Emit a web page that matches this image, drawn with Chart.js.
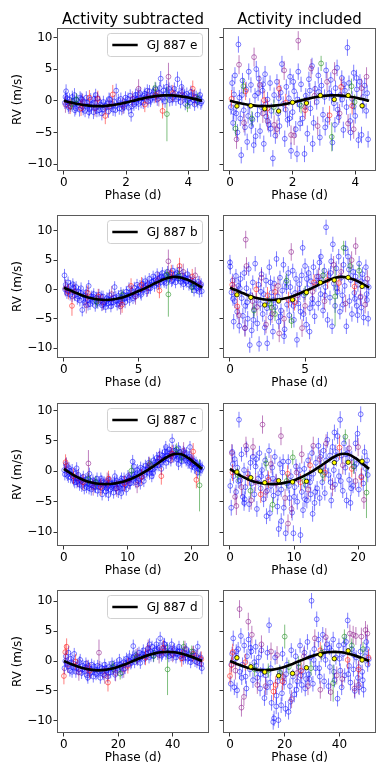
<!DOCTYPE html>
<html>
<head>
<meta charset="utf-8">
<script src="https://cdn.jsdelivr.net/npm/chart.js@4.4.1/dist/chart.umd.min.js"></script>
<style>
body { margin: 0; background: #fff; width: 389px; height: 777px; position: relative; overflow: hidden; }
canvas { position: absolute; }
</style>
</head>
<body>
<script>
'use strict';

// ---- data ----
var planets = ['GJ 887 e', 'GJ 887 b', 'GJ 887 c', 'GJ 887 d'];
var columnTitles = ['Activity subtracted', 'Activity included'];
var xRanges = [[-0.222, 4.662], [-0.463, 9.723], [-1.085, 22.785], [-2.54, 53.34]];
var yRanges = [[-11.1, 11.5], [-11.7, 12.7], [-12.3, 11.25], [-12.05, 11.9]];
var xTicks = [[0, 2, 4], [0, 5], [0, 10, 20], [0, 20, 40]];
var yTicks = [-10, -5, 0, 5, 10];

// points are [phase, rv, error]
// GJ 887 e
var eSubBlue = [[0.03,-0.3,1.0],[0.07,1.5,1.1],[0.1,0.4,0.9],[0.14,-0.8,1.0],[0.18,0.2,1.0],[0.22,-0.9,0.9],[0.27,0.6,1.0],[0.3,-0.5,1.0],[0.34,0.9,1.1],[0.38,-1.2,1.0],[0.42,0.1,0.9],[0.46,-0.7,1.0],[0.5,-1.4,1.1],[0.55,0.3,1.0],[0.6,-0.9,1.0],[0.64,-0.2,0.9],[0.68,-1.6,1.0],[0.72,0.5,1.0],[0.77,-0.8,1.0],[0.82,-1.3,1.1],[0.86,0.2,1.0],[0.9,-0.6,0.9],[0.95,-1.8,1.1],[1.0,-0.3,1.0],[1.04,-1.1,1.0],[1.08,0.4,1.0],[1.13,-1.5,1.0],[1.18,-0.6,0.9],[1.22,-2.0,1.1],[1.27,-0.2,1.0],[1.32,-1.1,1.0],[1.38,-0.5,1.0],[1.43,-1.7,1.0],[1.48,0.2,1.0],[1.52,-0.9,0.9],[1.58,-1.4,1.0],[1.62,-0.1,1.0],[1.68,1.6,1.1],[1.72,-0.7,1.0],[1.78,-1.2,1.0],[1.83,0.3,1.0],[1.88,-0.5,0.9],[1.93,-1.0,1.0],[1.98,0.5,1.0],[2.03,-0.3,1.0],[2.08,-1.1,1.0],[2.13,0.8,1.0],[2.16,-2.2,1.1],[2.2,0.1,1.0],[2.25,-0.6,1.0],[2.3,0.9,1.0],[2.35,0.2,0.9],[2.4,-0.5,1.0],[2.45,1.2,1.0],[2.5,0.4,1.0],[2.55,-0.3,1.0],[2.6,1.1,1.0],[2.65,0.6,0.9],[2.7,-0.1,1.0],[2.75,1.5,1.0],[2.8,0.3,1.0],[2.85,1.0,1.0],[2.9,0.5,0.9],[2.95,1.8,1.1],[3.0,0.2,1.0],[3.05,1.2,1.0],[3.11,3.5,1.2],[3.15,0.6,1.0],[3.2,1.6,1.0],[3.25,-0.1,1.0],[3.3,2.2,1.1],[3.35,0.9,1.0],[3.4,0.1,1.0],[3.45,1.5,1.0],[3.5,0.5,0.9],[3.55,1.9,1.0],[3.6,0.2,1.0],[3.65,3.4,1.2],[3.7,1.0,1.0],[3.75,-0.2,1.0],[3.8,1.4,1.0],[3.85,0.6,0.9],[3.9,-0.5,1.0],[3.95,1.1,1.0],[4.0,0.3,1.0],[4.05,-0.3,1.0],[4.1,0.9,1.0],[4.15,0.1,0.9],[4.2,-0.6,1.0],[4.25,0.6,1.0],[4.3,-0.2,1.0],[4.35,0.4,1.0],[4.4,-0.4,1.0],
    [0.05,0.6,1.0],[0.16,-1.1,1.0],[0.29,0.0,1.0],[0.4,-0.4,1.0],[0.52,0.5,1.0],[0.62,-1.3,1.0],[0.74,-0.3,1.0],[0.88,-1.0,1.0],[0.97,0.3,1.0],[1.06,-1.6,1.0],[1.15,-0.2,1.0],[1.25,-1.4,1.0],[1.35,-0.8,1.0],[1.45,0.3,1.0],[1.55,-0.5,1.0],[1.65,-1.5,1.0],[1.75,0.1,1.0],[1.86,-1.3,1.0],[1.95,-0.6,1.0],[2.06,0.3,1.0],[2.18,-0.9,1.0],[2.28,0.4,1.0],[2.38,1.0,1.0],[2.48,-0.2,1.0],[2.58,0.8,1.0],[2.68,1.6,1.0],[2.78,0.0,1.0],[2.88,1.4,1.0],[2.98,0.7,1.0],[3.08,2.0,1.0],[3.18,0.3,1.0],[3.28,1.2,1.0],[3.38,1.9,1.0],[3.48,0.2,1.0],[3.58,1.2,1.0],[3.68,0.5,1.0],[3.78,2.2,1.0],[3.88,0.9,1.0],[3.98,0.0,1.0],[4.08,1.4,1.0],[4.18,0.7,1.0],[4.28,0.1,1.0],[4.38,0.9,1.0],[4.43,-0.1,1.0],[0.1,-0.2,1.0],[0.35,-1.5,1.0],[0.58,0.2,1.0],[0.8,-1.8,1.0],[1.02,0.9,1.0],[2.32,-0.3,1.0]];
var eSubRed = [[0.82,0.5,1.2],[1.09,0.3,1.3],[1.33,-2.4,1.3],[1.57,1.0,1.5],[0.55,-1.2,1.2],[2.6,-0.6,1.2],[3.17,-1.6,1.2],[3.5,1.2,1.3],[4.14,1.9,1.3],[2.95,0.9,1.2],[0.2,-0.9,1.2]];
var eSubGreen = [[0.4,0.2,1.0],[0.25,-0.5,1.0],[2.93,2.0,1.0],[3.31,-2.1,4.3],[3.97,-0.8,1.0],[4.3,0.3,1.0]];
var eSubPurple = [[0.05,-0.6,1.3],[0.6,-0.2,1.3],[1.0,-1.2,1.3],[1.45,-0.9,1.3],[2.4,1.9,1.5],[2.7,0.6,1.3],[3.36,3.8,2.2],[3.05,0.4,1.3],[3.8,0.9,1.3],[4.2,0.5,1.3],[1.9,-0.8,1.3],[2.2,0.3,1.2]];
var eIncBlue = [[0.03,-1.0,1.2],[0.07,2.8,1.3],[0.1,-3.5,1.2],[0.13,1.0,1.2],[0.16,4.0,1.3],[0.2,-2.0,1.2],[0.24,-5.0,1.3],[0.27,8.9,1.3],[0.3,0.5,1.2],[0.33,-2.8,1.2],[0.36,-8.6,1.3],[0.4,3.2,1.2],[0.44,-1.5,1.2],[0.48,-4.2,1.3],[0.52,1.8,1.2],[0.55,-6.5,1.3],[0.6,4.6,1.3],[0.63,-0.8,1.2],[0.67,2.5,1.2],[0.72,-3.0,1.2],[0.76,-7.0,1.3],[0.8,0.8,1.2],[0.84,5.0,1.3],[0.88,-2.2,1.2],[0.92,3.5,1.3],[0.96,-4.8,1.2],[1.0,-1.0,1.2],[1.04,1.6,1.2],[1.08,-6.8,1.3],[1.12,4.2,1.3],[1.16,-2.5,1.2],[1.2,0.2,1.2],[1.24,-3.8,1.2],[1.28,2.8,1.2],[1.32,-1.6,1.2],[1.37,-9.1,1.3],[1.41,0.9,1.2],[1.45,-5.5,1.3],[1.5,3.0,1.2],[1.54,-2.0,1.2],[1.58,-4.0,1.3],[1.62,1.3,1.2],[1.66,5.8,1.3],[1.7,-0.5,1.2],[1.75,-6.0,1.3],[1.8,2.2,1.2],[1.84,-3.0,1.2],[1.88,0.4,1.2],[1.92,3.8,1.3],[1.95,-7.9,1.3],[2.0,-1.8,1.2],[2.05,1.5,1.2],[2.1,-4.5,1.3],[2.14,-8.4,1.3],[2.18,4.6,1.3],[2.22,-0.6,1.2],[2.27,2.6,1.2],[2.32,-2.8,1.2],[2.38,-8.4,1.3],[2.42,0.8,1.2],[2.47,-5.2,1.3],[2.52,3.4,1.2],[2.57,-1.2,1.2],[2.62,5.5,1.3],[2.67,-3.5,1.2],[2.72,1.9,1.2],[2.77,-0.2,1.2],[2.82,4.0,1.3],[2.87,-5.8,1.3],[2.92,2.4,1.2],[2.97,-2.2,1.2],[3.02,0.6,1.2],[3.07,4.8,1.3],[3.12,-3.0,1.2],[3.17,1.2,1.2],[3.22,3.3,1.2],[3.27,-6.6,1.3],[3.32,-0.4,1.2],[3.37,2.0,1.2],[3.42,5.2,1.3],[3.47,-2.6,1.2],[3.52,0.9,1.2],[3.57,3.6,1.2],[3.62,-4.6,1.3],[3.67,1.6,1.2],[3.72,-1.0,1.2],[3.75,8.4,1.3],[3.8,2.8,1.2],[3.85,-5.0,1.3],[3.9,0.3,1.2],[3.95,4.4,1.3],[4.0,-2.4,1.2],[4.05,1.8,1.2],[4.1,-6.2,1.3],[4.15,3.0,1.2],[4.2,-5.4,1.3],[4.25,0.6,1.2],[4.3,2.4,1.2],[4.35,-1.6,1.2],[4.41,-6.1,1.3],
    [0.12,-1.8,1.2],[0.38,0.9,1.2],[0.58,-2.4,1.2],[0.82,-5.6,1.3],[1.06,2.6,1.2],[1.3,-4.4,1.3],[1.56,0.4,1.2],[1.78,-1.4,1.2],[2.02,3.0,1.2],[2.24,-3.6,1.2],[2.44,-0.2,1.2],[2.64,-6.8,1.3],[2.84,1.4,1.2],[3.04,-4.2,1.3],[3.24,0.8,1.2],[3.44,-1.4,1.2],[3.64,2.6,1.2],[3.84,-3.2,1.2],[4.04,3.6,1.3],[4.24,-0.8,1.2],[4.38,1.2,1.2],[0.68,-4.0,1.2],[1.14,-0.6,1.2],[1.9,-2.8,1.2],[2.55,1.6,1.2],[3.35,-3.8,1.2],[3.95,-0.9,1.2],[0.9,1.2,1.2],[2.15,0.2,1.2],[3.58,0.2,1.2]];
var eIncRed = [[0.05,0.3,1.4],[0.5,1.5,1.4],[1.09,0.1,1.5],[1.57,1.9,1.5],[1.78,-0.3,1.4],[2.4,-1.5,1.4],[3.18,-2.3,1.5],[3.55,2.2,1.5],[3.9,-0.8,1.4],[1.2,-1.2,1.4]];
var eIncGreen = [[0.18,-4.4,1.2],[0.43,2.3,1.2],[0.7,-2.8,1.2],[2.27,-0.8,1.2],[2.91,5.9,1.2],[3.25,-5.7,2.3],[3.88,2.3,1.2],[3.98,-0.2,1.2],[1.4,-1.0,1.2]];
var eIncPurple = [[0.21,-6.1,1.5],[0.29,5.7,1.5],[0.45,-3.5,1.5],[0.77,6.9,1.5],[0.95,2.5,1.5],[1.2,-3.2,1.5],[1.41,-3.8,1.5],[1.5,-4.5,1.5],[1.73,4.8,1.5],[1.95,-5.4,1.5],[2.05,-5.5,1.5],[2.18,9.5,1.5],[2.4,-1.0,1.5],[2.59,5.1,1.5],[2.8,-4.0,1.5],[3.1,3.0,1.5],[3.34,4.6,1.5],[3.5,-2.0,1.5],[3.77,-3.6,1.5],[3.95,-4.5,1.5],[4.2,2.0,1.5],[4.36,3.8,1.5],[1.05,-2.0,1.5],[2.7,0.8,1.5]];
var eModelX = [0, 0.247, 0.493, 0.74, 0.987, 1.233, 1.48, 1.727, 1.973, 2.22, 2.467, 2.713, 2.96, 3.207, 3.453, 3.7, 3.947, 4.193, 4.44];
var eModelY = [0, -0.29, -0.55, -0.74, -0.84, -0.84, -0.74, -0.55, -0.29, 0, 0.29, 0.55, 0.74, 0.84, 0.84, 0.74, 0.55, 0.29, 0];
var eBinX = [0.222, 0.666, 1.11, 1.554, 1.998, 2.442, 2.886, 3.33, 3.774, 4.218];
var eBinY = [-0.84, -0.79, -1.26, -1.63, -0.26, -0.37, 0.84, 0.21, 0.84, -0.79];

// GJ 887 b
var bSubBlue = [[0.04,2.4,1.1],[0.12,0.8,1.0],[0.2,-0.6,1.0],[0.28,1.2,1.0],[0.36,-0.3,1.0],[0.45,0.6,1.0],[0.55,-1.2,1.0],[0.64,0.3,1.0],[0.72,-1.0,1.0],[0.82,0.4,1.0],[0.9,-1.6,1.0],[0.98,-0.4,1.0],[1.07,-1.9,1.0],[1.15,0.2,1.0],[1.23,-3.5,1.1],[1.32,-1.0,1.0],[1.4,-2.2,1.0],[1.5,-0.5,1.0],[1.58,-1.8,1.0],[1.66,0.6,1.0],[1.75,-2.5,1.0],[1.84,-1.2,1.0],[1.92,-2.0,1.0],[2.0,-0.8,1.0],[2.1,-2.8,1.0],[2.18,-1.4,1.0],[2.27,-2.3,1.0],[2.35,-0.9,1.0],[2.45,-1.9,1.0],[2.54,-2.7,1.0],[2.62,-1.2,1.0],[2.7,-2.2,1.0],[2.8,-3.0,1.0],[2.88,-1.5,1.0],[2.97,-2.4,1.0],[3.05,-1.0,1.0],[3.15,-2.9,1.0],[3.22,-1.6,1.0],[3.3,-2.2,1.0],[3.4,0.4,1.0],[3.48,-1.3,1.0],[3.57,-2.6,1.0],[3.65,-1.1,1.0],[3.74,-2.0,1.0],[3.82,-0.6,1.0],[3.92,-1.8,1.0],[4.0,-0.9,1.0],[4.1,-2.2,1.0],[4.18,-0.4,1.0],[4.27,-1.4,1.0],[4.36,0.2,1.0],[4.45,-1.0,1.0],[4.54,-0.2,1.0],[4.63,-1.5,1.0],[4.72,0.3,1.0],[4.82,-0.8,1.0],[4.9,0.8,1.0],[5.0,-0.5,1.0],[5.1,0.6,1.0],[5.18,-0.9,1.0],[5.28,1.0,1.0],[5.36,0.0,1.0],[5.45,1.4,1.0],[5.55,-0.3,1.0],[5.63,0.9,1.0],[5.72,1.8,1.0],[5.8,0.2,1.0],[5.9,1.3,1.0],[5.98,2.2,1.0],[6.07,0.6,1.0],[6.15,1.6,1.0],[6.25,2.6,1.0],[6.33,0.9,1.0],[6.42,2.0,1.0],[6.5,1.2,1.0],[6.6,2.8,1.0],[6.68,1.6,1.0],[6.78,2.4,1.0],[6.86,1.1,1.0],[6.95,3.0,1.0],[7.05,1.8,1.0],[7.14,2.6,1.0],[7.22,1.4,1.0],[7.3,3.2,1.0],[7.4,2.0,1.0],[7.48,1.2,1.0],[7.58,2.8,1.0],[7.66,1.9,1.0],[7.75,3.4,1.0],[7.84,1.3,1.0],[7.93,2.4,1.0],[8.02,0.9,1.0],[8.1,2.0,1.0],[8.2,1.3,1.0],[8.28,2.6,1.0],[8.38,0.8,1.0],[8.46,1.7,1.0],[8.55,0.4,1.0],[8.64,1.4,1.0],[8.72,-0.2,1.0],[8.82,1.0,1.0],[8.9,0.2,1.0],[9.0,1.3,1.0],[9.08,-0.4,1.0],[9.16,0.6,1.0],[9.24,-0.3,1.0],
    [0.08,0.0,1.0],[0.25,-0.2,1.0],[0.42,-0.9,1.0],[0.6,0.9,1.0],[0.78,-0.3,1.0],[0.95,-1.2,1.0],[1.12,-0.6,1.0],[1.3,-1.8,1.0],[1.46,-1.0,1.0],[1.62,-2.6,1.0],[1.8,-1.6,1.0],[1.96,-1.2,1.0],[2.14,-2.0,1.0],[2.3,-1.6,1.0],[2.5,-1.2,1.0],[2.66,-2.5,1.0],[2.84,-2.0,1.0],[3.0,-1.7,1.0],[3.18,-2.3,1.0],[3.35,-1.4,1.0],[3.52,-2.0,1.0],[3.7,-2.4,1.0],[3.86,-1.4,1.0],[4.04,-1.6,1.0],[4.22,-1.0,1.0],[4.4,-1.8,1.0],[4.58,-0.6,1.0],[4.76,-1.2,1.0],[4.95,-0.1,1.0],[5.14,-0.6,1.0],[5.32,0.4,1.0],[5.5,0.6,1.0],[5.68,0.2,1.0],[5.85,0.8,1.0],[6.02,1.4,1.0],[6.2,1.0,1.0],[6.38,1.8,1.0],[6.55,2.2,1.0],[6.72,1.3,1.0],[6.9,2.1,1.0],[7.1,2.2,1.0],[7.27,1.6,1.0],[7.44,2.6,1.0],[7.62,2.2,1.0],[7.8,1.8,1.0],[7.97,1.8,1.0],[8.15,1.6,1.0],[8.33,1.9,1.0],[8.5,1.2,1.0],[8.68,0.9,1.0],[8.86,0.4,1.0],[9.04,0.5,1.0],[9.2,0.9,1.0]];
var bSubRed = [[0.3,-0.4,1.3],[0.54,-2.8,1.7],[1.6,-0.6,1.3],[3.9,-2.6,1.4],[4.5,0.6,1.3],[5.2,0.8,1.3],[6.4,-0.2,1.3],[7.2,2.8,1.4],[7.75,4.0,1.4],[2.3,-1.2,1.3],[8.6,2.2,1.3]];
var bSubGreen = [[3.9,-1.0,1.0],[6.9,2.5,1.0],[7.0,-0.85,3.8],[7.7,2.4,1.0],[8.6,0.4,1.0],[2.2,-2.1,1.0]];
var bSubPurple = [[0.1,0.2,1.4],[0.7,-0.4,1.4],[1.5,-2.7,1.4],[2.6,-2.2,1.4],[3.2,-0.8,1.4],[3.8,-2.9,1.4],[4.8,-1.2,1.4],[5.6,0.2,1.4],[6.3,1.6,1.4],[7.0,4.8,2.0],[8.0,3.0,1.4],[8.8,2.4,1.4],[9.1,0.9,1.4]];
var bIncBlue = [[0.0,4.6,1.3],[0.02,3.9,1.3],[0.1,-0.5,1.2],[0.18,1.5,1.2],[0.25,-5.5,1.3],[0.32,-2.0,1.2],[0.4,2.3,1.2],[0.48,-3.8,1.3],[0.55,0.6,1.2],[0.62,-6.2,1.3],[0.7,1.8,1.2],[0.78,-1.5,1.2],[0.86,-4.5,1.3],[0.95,2.8,1.2],[1.02,-2.8,1.2],[1.1,0.2,1.2],[1.18,-5.0,1.3],[1.25,3.5,1.2],[1.32,-9.5,1.3],[1.38,-1.0,1.2],[1.45,-7.0,1.3],[1.52,1.2,1.2],[1.6,-3.4,1.2],[1.68,4.4,1.3],[1.75,-1.8,1.2],[1.82,-5.8,1.3],[1.9,0.8,1.2],[1.94,-9.3,1.3],[2.02,-2.5,1.2],[2.1,2.6,1.2],[2.18,-4.2,1.3],[2.25,-0.8,1.2],[2.32,-6.5,1.3],[2.4,1.5,1.2],[2.48,-9.2,1.3],[2.55,-2.0,1.2],[2.62,3.8,1.3],[2.7,-4.8,1.3],[2.78,-0.5,1.2],[2.86,-7.2,1.3],[2.94,1.0,1.2],[3.02,-3.0,1.2],[3.1,5.2,1.3],[3.18,-1.2,1.2],[3.25,-5.5,1.3],[3.33,2.0,1.2],[3.4,-3.6,1.2],[3.48,-0.2,1.2],[3.56,4.2,1.3],[3.64,-6.8,1.3],[3.72,1.2,1.2],[3.8,-2.6,1.2],[3.88,2.8,1.2],[3.95,-4.4,1.3],[4.02,0.4,1.2],[4.1,-1.8,1.2],[4.18,3.2,1.2],[4.26,-5.2,1.3],[4.34,-0.6,1.2],[4.4,1.8,1.2],[4.46,-8.6,1.3],[4.55,-2.4,1.2],[4.62,0.9,1.2],[4.7,-3.8,1.3],[4.78,2.4,1.2],[4.84,7.1,1.3],[4.92,-1.0,1.2],[5.0,4.0,1.3],[5.08,-6.0,1.3],[5.16,0.2,1.2],[5.24,2.8,1.2],[5.32,-3.2,1.2],[5.4,1.4,1.2],[5.48,-1.6,1.2],[5.56,3.8,1.3],[5.64,-4.6,1.3],[5.72,0.8,1.2],[5.8,2.2,1.2],[5.88,-2.4,1.2],[5.96,4.6,1.3],[6.04,-0.8,1.2],[6.12,1.6,1.2],[6.2,-3.6,1.3],[6.28,3.2,1.2],[6.36,0.4,1.2],[6.4,10.6,1.3],[6.5,-5.2,1.3],[6.58,2.4,1.2],[6.66,-1.4,1.2],[6.74,4.8,1.3],[6.8,-6.3,1.3],[6.85,7.7,1.3],[6.92,1.0,1.2],[7.0,-2.8,1.2],[7.08,3.6,1.2],[7.16,-0.4,1.2],[7.24,5.6,1.3],[7.32,-3.8,1.3],[7.4,2.0,1.2],[7.48,-1.0,1.2],[7.56,4.2,1.3],[7.64,0.6,1.2],[7.75,-6.3,1.3],[7.86,5.6,1.3],[7.95,-2.0,1.2],[8.04,1.6,1.2],[8.12,-4.2,1.3],[8.2,3.0,1.2],[8.28,-0.6,1.2],[8.36,2.2,1.2],[8.44,-2.8,1.2],[8.52,0.8,1.2],[8.6,4.4,1.3],[8.68,-1.4,1.2],[8.75,-3.1,1.2],[8.82,2.6,1.2],[8.9,-4.8,1.3],[8.98,1.2,1.2],[9.05,3.8,1.3],[9.12,-1.8,1.2],[9.2,-5.0,1.3],[9.24,0.4,1.2],
    [0.2,-1.6,1.2],[0.66,0.2,1.2],[1.14,-2.2,1.2],[1.56,-5.2,1.3],[2.06,-0.4,1.2],[2.46,-3.2,1.2],[2.9,-1.8,1.2],[3.36,-4.6,1.3],[3.76,0.4,1.2],[4.22,-2.8,1.2],[4.66,-0.6,1.2],[5.12,1.8,1.2],[5.52,-2.4,1.2],[5.92,1.2,1.2],[6.32,-1.0,1.2],[6.7,2.8,1.2],[7.12,0.2,1.2],[7.52,-2.6,1.2],[7.92,3.4,1.2],[8.32,-1.6,1.2],[8.72,1.4,1.2],[9.1,-0.8,1.2],[1.0,-6.6,1.3],[3.6,-8.0,1.3],[5.3,-7.2,1.3],[6.05,5.6,1.3],[7.7,7.0,1.3],[8.5,-4.4,1.3],[2.7,1.2,1.2],[4.9,-4.2,1.2]];
var bIncRed = [[0.15,0.8,1.4],[0.49,-2.9,1.5],[1.75,0.0,1.4],[2.5,-1.0,1.4],[3.9,-1.8,1.4],[4.3,-2.2,1.4],[5.6,1.2,1.4],[6.5,1.6,1.5],[7.25,1.1,1.5],[8.3,0.5,1.4],[3.0,-0.4,1.4]];
var bIncGreen = [[1.6,-3.6,1.2],[2.65,-2.4,1.2],[2.79,-3.1,1.2],[3.0,-4.2,1.2],[3.77,1.5,1.2],[4.1,-5.4,1.2],[5.0,-0.6,1.2],[7.0,-1.2,5.1],[7.57,7.1,1.2],[8.0,4.0,1.2],[8.6,3.2,1.2],[6.2,2.4,1.2]];
var bIncPurple = [[0.3,0.4,1.5],[0.6,-4.4,1.5],[1.0,-6.6,1.5],[1.05,8.5,1.5],[1.1,4.0,1.5],[1.5,-2.0,1.5],[2.1,2.0,1.5],[2.4,-6.0,1.5],[2.8,-4.2,1.5],[3.2,0.6,1.5],[3.28,-7.5,1.5],[3.6,-5.0,1.5],[4.08,6.4,1.5],[4.5,-1.0,1.5],[5.0,-2.8,1.5],[5.5,-0.4,1.5],[5.9,2.2,1.5],[6.3,-2.0,1.5],[6.9,4.2,1.5],[7.4,3.0,1.5],[7.7,-2.4,1.5],[8.1,5.0,1.5],[8.37,7.4,1.5],[8.7,-1.2,1.5],[9.0,-2.6,1.5],[9.15,1.8,1.5],[1.8,-3.0,1.5],[4.8,-6.6,1.5]];
var bModelX = [0, 0.46, 0.93, 1.39, 1.85, 2.32, 2.78, 3.24, 3.70, 4.17, 4.63, 5.09, 5.56, 6.02, 6.48, 6.95, 7.41, 7.87, 8.33, 8.80, 9.26];
var bModelY = [0.3, -0.2, -0.7, -1.15, -1.5, -1.72, -1.8, -1.72, -1.5, -1.15, -0.7, -0.2, 0.35, 0.95, 1.5, 1.95, 2.15, 2.0, 1.6, 1.0, 0.3];
var bBinX = [0.463, 1.389, 2.315, 3.241, 4.167, 5.093, 6.019, 6.945, 7.871, 8.797];
var bBinY = [-0.91, -1.36, -2.66, -1.98, -1.76, -0.51, 1.19, 1.59, 2.04, 0.51];

// GJ 887 c
var cSubBlue = [[0.05,0.2,1.0],[0.3,1.2,1.0],[0.55,-0.6,1.0],[0.8,0.5,1.0],[1.05,-1.0,1.0],[1.3,0.2,1.0],[1.55,-1.5,1.0],[1.8,-0.4,1.0],[2.05,-1.8,1.0],[2.3,-0.6,1.0],[2.55,-1.4,1.0],[2.8,-2.4,1.0],[3.05,-0.9,1.0],[3.3,-1.9,1.0],[3.55,-2.6,1.0],[3.8,-1.2,1.0],[4.05,-2.2,1.0],[4.3,-3.0,1.0],[4.55,-1.5,1.0],[4.8,-2.5,1.0],[5.05,-1.7,1.0],[5.3,-3.2,1.0],[5.55,-2.0,1.0],[5.8,-1.2,1.0],[6.05,-2.8,1.0],[6.3,-1.8,1.0],[6.55,-3.3,1.0],[6.8,-2.2,1.0],[7.05,-1.4,1.0],[7.3,-3.0,1.0],[7.55,-2.0,1.0],[7.8,-3.5,1.0],[8.05,-2.4,1.0],[8.3,-1.6,1.0],[8.55,-3.4,1.0],[8.8,-2.2,1.0],[9.05,-1.2,1.0],[9.3,-2.8,1.0],[9.55,-1.8,1.0],[9.8,-3.0,1.0],[10.05,-0.8,1.0],[10.3,-2.0,1.0],[10.55,-1.2,1.0],[10.8,1.6,1.1],[11.05,-0.6,1.0],[11.3,-1.8,1.0],[11.55,0.2,1.0],[11.8,-1.2,1.0],[12.05,0.6,1.0],[12.3,-0.4,1.0],[12.55,-1.6,1.0],[12.8,0.9,1.0],[13.05,-0.2,1.0],[13.3,1.4,1.0],[13.55,0.3,1.0],[13.8,-0.8,1.0],[14.05,1.8,1.0],[14.3,0.6,1.0],[14.55,2.2,1.0],[14.8,1.0,1.0],[15.05,2.8,1.0],[15.3,0.4,1.0],[15.55,1.8,1.0],[15.8,3.2,1.0],[16.05,1.4,1.0],[16.3,2.6,1.0],[16.55,3.6,1.0],[16.8,1.8,1.0],[17.0,5.1,1.1],[17.25,2.4,1.0],[17.5,3.4,1.0],[17.75,2.0,1.0],[18.0,3.8,1.0],[18.25,2.6,1.0],[18.5,1.6,1.0],[18.75,3.2,1.0],[19.0,2.2,1.0],[19.25,3.0,1.0],[19.5,1.4,1.0],[19.75,2.4,1.0],[20.0,0.8,1.0],[20.25,1.8,1.0],[20.5,0.6,1.0],[20.75,1.4,1.0],[21.0,-0.2,1.0],[21.25,0.8,1.0],[21.5,0.2,1.0],[21.7,0.6,1.0],[2.0,0.5,1.0],[4.0,-0.4,1.0],[6.0,-3.8,1.0],[8.0,-0.8,1.0],[12.0,-2.0,1.0],[14.0,-0.3,1.0],[16.0,4.0,1.0],[18.0,1.2,1.0],[19.8,4.0,1.0],[7.0,-3.9,1.0],[9.0,-3.6,1.0],[11.0,0.8,1.0],
    [0.15,-0.5,1.0],[0.45,0.3,1.0],[0.7,-0.9,1.0],[0.95,0.1,1.0],[1.2,-0.6,1.0],[1.45,-1.1,1.0],[1.7,-1.8,1.0],[1.95,-1.2,1.0],[2.2,-1.6,1.0],[2.45,-2.2,1.0],[2.7,-1.6,1.0],[2.95,-1.4,1.0],[3.2,-2.8,1.0],[3.45,-1.3,1.0],[3.7,-2.0,1.0],[3.95,-2.8,1.0],[4.2,-1.6,1.0],[4.45,-2.3,1.0],[4.7,-1.9,1.0],[4.95,-2.6,1.0],[5.2,-1.2,1.0],[5.45,-2.6,1.0],[5.7,-2.2,1.0],[5.95,-1.6,1.0],[6.2,-2.4,1.0],[6.45,-2.0,1.0],[6.7,-2.8,1.0],[6.95,-2.4,1.0],[7.2,-1.8,1.0],[7.45,-2.6,1.0],[7.7,-2.2,1.0],[7.95,-1.8,1.0],[8.2,-2.8,1.0],[8.45,-2.0,1.0],[8.7,-2.6,1.0],[8.95,-1.6,1.0],[9.2,-2.2,1.0],[9.45,-1.2,1.0],[9.7,-2.2,1.0],[9.95,-1.6,1.0],[10.2,-1.1,1.0],[10.45,-2.0,1.0],[10.7,-0.5,1.0],[10.95,-1.4,1.0],[11.2,-0.9,1.0],[11.45,-0.3,1.0],[11.7,-1.6,1.0],[11.95,-0.2,1.0],[12.2,-0.9,1.0],[12.45,0.4,1.0],[12.7,-0.6,1.0],[12.95,0.3,1.0],[13.2,0.6,1.0],[13.45,-0.4,1.0],[13.7,1.0,1.0],[13.95,0.3,1.0],[14.2,1.4,1.0],[14.45,1.0,1.0],[14.7,1.6,1.0],[14.95,2.2,1.0],[15.2,1.4,1.0],[15.45,2.6,1.0],[15.7,2.0,1.0],[15.95,2.4,1.0],[16.2,3.2,1.0],[16.45,2.0,1.0],[16.7,3.0,1.0],[16.95,2.8,1.0],[17.2,3.4,1.0],[17.45,2.6,1.0],[17.7,2.8,1.0],[17.95,2.4,1.0],[18.2,3.2,1.0],[18.45,2.2,1.0],[18.7,2.4,1.0],[18.95,3.0,1.0],[19.2,1.8,1.0],[19.45,2.2,1.0],[19.7,1.6,1.0],[19.95,1.8,1.0],[20.2,1.2,1.0],[20.45,1.6,1.0],[20.7,0.8,1.0],[20.95,1.0,1.0],[21.2,0.3,1.0],[21.45,0.9,1.0]];
var cSubRed = [[0.26,1.5,1.3],[1.5,-0.8,1.3],[5.8,-2.6,1.4],[7.0,-1.2,1.3],[9.5,-2.0,1.3],[12.2,-0.9,1.3],[15.3,-0.8,1.4],[17.0,2.9,1.4],[20.3,3.25,1.4],[20.8,-1.4,1.4],[3.0,-1.8,1.3]];
var cSubGreen = [[3.85,-1.3,1.0],[5.0,-1.8,1.0],[10.6,0.1,1.0],[13.5,1.2,1.0],[18.5,2.4,1.0],[21.3,-2.3,4.3],[17.7,3.6,1.0]];
var cSubPurple = [[0.4,0.9,1.4],[2.2,-1.2,1.4],[3.85,1.3,2.2],[4.6,-2.6,1.4],[6.8,-1.6,1.4],[8.3,-2.8,1.4],[10.2,-1.5,1.4],[11.5,-2.2,1.4],[13.4,1.0,1.4],[15.0,2.0,1.4],[16.8,2.6,1.4],[18.8,3.4,1.4],[20.0,2.0,1.4]];
var cIncBlue = [[0.05,-2.4,1.2],[0.2,-6.0,1.3],[0.35,3.2,1.2],[0.55,-0.8,1.2],[0.75,2.0,1.2],[0.95,-3.4,1.2],[1.15,0.6,1.2],[1.41,8.5,1.3],[1.6,-1.5,1.2],[1.8,2.8,1.2],[2.0,-4.2,1.3],[2.2,0.2,1.2],[2.4,-2.6,1.2],[2.6,3.6,1.3],[2.8,-0.4,1.2],[3.0,-5.4,1.3],[3.2,1.4,1.2],[3.4,-2.0,1.2],[3.6,2.4,1.2],[3.8,-3.8,1.2],[4.0,0.8,1.2],[4.2,-6.2,1.3],[4.4,-1.2,1.2],[4.6,3.0,1.2],[4.8,-2.8,1.2],[5.0,0.2,1.2],[5.25,-4.6,1.3],[5.5,1.8,1.2],[5.7,-7.4,1.3],[5.9,-1.0,1.2],[6.1,3.4,1.2],[6.23,-6.9,1.3],[6.4,-2.4,1.2],[6.6,0.6,1.2],[6.8,-4.0,1.2],[7.0,2.4,1.2],[7.2,-1.6,1.2],[7.4,-5.8,1.3],[7.6,-9.5,1.3],[7.8,1.2,1.2],[8.0,-3.0,1.2],[8.2,-0.2,1.2],[8.4,-6.0,1.3],[8.7,-10.2,1.3],[8.9,-2.0,1.2],[9.1,1.6,1.2],[9.3,-4.4,1.3],[9.5,-0.8,1.2],[9.7,-6.8,1.3],[9.9,-10.2,1.3],[10.1,-2.6,1.2],[10.3,0.8,1.2],[10.5,-5.0,1.3],[10.7,-1.4,1.2],[11.0,-10.5,1.3],[11.2,-3.4,1.2],[11.4,-6.4,1.3],[11.6,0.4,1.2],[11.8,-2.2,1.2],[12.0,-4.8,1.3],[12.2,1.8,1.2],[12.4,-1.0,1.2],[12.6,-3.8,1.2],[12.8,3.0,1.2],[13.0,-0.4,1.2],[13.2,-5.2,1.3],[13.4,1.4,1.2],[13.6,-2.8,1.2],[13.8,4.2,1.3],[14.0,-4.4,1.3],[14.2,0.6,1.2],[14.4,-1.8,1.2],[14.6,3.4,1.2],[14.8,-3.6,1.2],[15.0,1.8,1.2],[15.2,5.2,1.3],[15.4,-0.6,1.2],[15.6,2.6,1.2],[15.8,-4.8,1.3],[16.0,4.0,1.3],[16.2,0.2,1.2],[16.4,-2.2,1.2],[16.6,2.0,1.2],[16.8,5.8,1.3],[17.0,-0.8,1.2],[17.2,8.5,1.4],[17.4,2.6,1.2],[17.6,-3.2,1.2],[17.8,4.6,1.3],[18.0,0.6,1.2],[18.2,-4.8,1.3],[18.4,3.0,1.2],[18.6,-1.4,1.2],[18.8,-5.2,1.3],[19.0,2.2,1.2],[19.2,-2.4,1.2],[19.4,0.8,1.2],[19.6,4.6,1.3],[19.9,6.2,1.3],[20.1,-3.0,1.2],[20.4,9.4,1.3],[20.6,1.4,1.2],[20.8,-2.0,1.2],[21.0,3.2,1.2],[21.2,0.4,1.2],[21.5,-0.6,1.2],
    [0.45,1.2,1.2],[1.3,-1.6,1.2],[2.3,-4.6,1.3],[3.1,-1.2,1.2],[4.1,2.0,1.2],[4.9,-0.8,1.2],[5.8,-3.2,1.2],[6.7,-1.2,1.2],[7.5,-3.6,1.2],[8.3,1.6,1.2],[9.2,-2.4,1.2],[10.0,-4.2,1.3],[10.9,0.2,1.2],[11.7,-4.6,1.3],[12.5,-1.8,1.2],[13.3,-3.4,1.2],[14.1,2.4,1.2],[14.9,0.2,1.2],[15.7,-1.8,1.2],[16.5,3.2,1.2],[17.3,-1.6,1.2],[18.1,2.8,1.2],[18.9,-2.8,1.2],[19.7,1.2,1.2],[20.5,-0.8,1.2],[21.4,1.8,1.2],[8.0,-8.2,1.3],[12.9,-7.0,1.3],[16.3,6.4,1.3],[2.2,-5.2,1.3]];
var cIncRed = [[0.4,-0.2,1.4],[2.8,-1.0,1.4],[4.8,-3.8,1.4],[6.0,-1.4,1.4],[9.0,-0.4,1.4],[11.0,-1.8,1.4],[14.8,-0.2,1.4],[17.1,3.9,2.0],[19.0,0.4,1.4],[20.5,-1.0,1.6],[12.5,1.0,1.4]];
var cIncGreen = [[1.2,-0.6,1.2],[3.2,-3.2,1.2],[5.65,1.3,1.2],[6.65,-5.5,1.2],[9.8,2.3,1.2],[11.6,-1.6,1.2],[14.5,-0.6,1.2],[18.0,5.7,1.2],[19.3,0.8,1.2],[21.3,-3.5,4.2],[8.85,-1.6,1.2]];
var cIncPurple = [[0.3,3.0,1.5],[0.8,-4.2,1.5],[1.0,-5.7,1.5],[1.8,-2.6,1.5],[2.5,4.2,1.5],[3.3,-4.8,1.5],[4.0,-1.8,1.5],[5.08,7.7,1.5],[5.6,-3.4,1.5],[6.4,1.2,1.5],[7.2,-2.0,1.5],[7.96,5.8,1.5],[8.6,-4.4,1.5],[9.06,-8.6,1.5],[9.6,-6.2,1.5],[10.4,-0.2,1.5],[11.2,2.8,1.5],[12.2,-3.0,1.5],[13.0,4.2,1.5],[14.0,2.0,1.5],[15.0,4.6,1.5],[16.0,-2.6,1.5],[17.6,1.0,1.5],[18.6,3.8,1.5],[19.6,-1.6,1.5],[20.0,4.0,1.5],[20.9,-4.7,1.5],[3.6,4.0,1.5]];
var cModelX = [0, 1.09, 2.17, 3.26, 4.34, 5.43, 6.51, 7.60, 8.68, 9.77, 10.85, 11.94, 13.02, 14.11, 15.19, 16.28, 17.36, 18.45, 19.53, 20.62, 21.70];
var cModelY = [0.4, -0.35, -1.0, -1.5, -1.85, -2.05, -2.1, -2.05, -1.85, -1.55, -1.1, -0.55, 0.1, 0.85, 1.65, 2.4, 2.85, 2.8, 2.2, 1.3, 0.4];
var cBinX = [1.085, 3.255, 5.425, 7.595, 9.765, 11.935, 14.105, 16.275, 18.445, 20.615];
var cBinY = [-0.11, -1.05, -1.87, -1.54, -1.76, -1.65, 0.06, 1.43, 1.49, 1.65];

// GJ 887 d
var dSubBlue = [[0.2,-1.2,1.0],[0.7,0.8,1.0],[1.2,-0.4,1.0],[1.7,1.4,1.1],[2.2,-1.6,1.0],[2.8,-0.2,1.0],[3.3,-1.0,1.0],[3.8,1.2,1.0],[4.4,-1.8,1.0],[4.9,-0.6,1.0],[5.4,-1.4,1.0],[6.0,0.2,1.0],[6.5,-2.0,1.0],[7.0,-0.8,1.0],[7.6,-1.7,1.0],[8.1,-0.4,1.0],[8.6,-2.4,1.0],[9.2,-1.2,1.0],[9.7,-2.0,1.0],[10.2,-0.6,1.0],[10.8,-2.6,1.0],[11.3,-1.4,1.0],[11.8,-2.2,1.0],[12.4,-0.8,1.0],[12.9,-1.8,1.0],[13.4,-2.8,1.0],[14.0,-1.2,1.0],[14.5,-2.2,1.0],[15.0,-0.6,1.0],[15.6,-1.6,1.0],[16.1,-2.6,1.0],[16.6,-1.0,1.0],[17.2,-1.9,1.0],[17.7,-0.4,1.0],[18.2,-1.4,1.0],[18.8,-2.3,1.0],[19.3,-0.6,1.0],[19.8,-1.5,1.0],[20.4,0.2,1.0],[20.9,-1.0,1.0],[21.4,-1.9,1.0],[22.0,-0.2,1.0],[22.5,-1.2,1.0],[23.0,0.4,1.0],[23.6,-0.6,1.0],[24.1,0.8,1.0],[24.6,-0.4,1.0],[25.2,0.6,1.0],[25.5,2.5,1.1],[26.0,-0.2,1.0],[26.5,1.0,1.0],[27.0,0.2,1.0],[27.6,1.4,1.0],[28.1,-0.3,1.0],[28.6,0.8,1.0],[29.2,1.8,1.0],[29.7,0.4,1.0],[30.2,1.2,1.0],[30.8,2.0,1.0],[31.3,0.6,1.0],[31.8,1.6,1.0],[32.4,2.4,1.0],[32.9,0.8,1.0],[33.4,1.8,1.0],[34.0,2.8,1.0],[34.5,1.2,1.0],[35.0,2.2,1.0],[35.4,3.8,1.1],[35.9,0.9,1.0],[36.4,2.0,1.0],[37.0,2.8,1.0],[37.5,1.2,1.0],[38.0,2.2,1.0],[38.6,0.8,1.0],[39.1,1.8,1.0],[39.6,2.8,1.0],[40.2,1.0,1.0],[40.7,2.0,1.0],[41.2,0.6,1.0],[41.8,1.6,1.0],[42.3,2.4,1.0],[42.8,0.8,1.0],[43.4,1.6,1.0],[43.9,0.4,1.0],[44.4,1.4,1.0],[45.0,2.0,1.0],[45.5,0.4,1.0],[46.0,1.2,1.0],[46.6,-0.2,1.0],[47.1,0.8,1.0],[47.6,1.6,1.0],[48.2,0.0,1.0],[48.7,0.9,1.0],[49.2,2.4,1.0],[49.8,-0.4,1.0],[50.3,0.6,1.0],[50.7,-1.2,1.0],
    [0.5,0.0,1.0],[1.5,-0.9,1.0],[2.5,0.4,1.0],[3.5,-0.4,1.0],[4.6,-1.2,1.0],[5.7,-0.2,1.0],[6.8,-1.4,1.0],[7.9,-1.0,1.0],[9.0,-0.8,1.0],[10.0,-1.8,1.0],[11.1,-0.9,1.0],[12.2,-2.0,1.0],[13.2,-1.0,1.0],[14.2,-1.8,1.0],[15.3,-1.2,1.0],[16.4,-2.0,1.0],[17.4,-1.2,1.0],[18.5,-0.8,1.0],[19.6,-1.2,1.0],[20.6,-0.6,1.0],[21.7,-0.8,1.0],[22.7,-0.4,1.0],[23.8,0.0,1.0],[24.8,-0.2,1.0],[25.8,0.8,1.0],[26.8,0.4,1.0],[27.9,0.6,1.0],[28.9,1.2,1.0],[29.9,0.8,1.0],[31.0,1.4,1.0],[32.0,0.9,1.0],[33.1,1.4,1.0],[34.2,1.9,1.0],[35.2,1.4,1.0],[36.2,1.2,1.0],[37.2,1.8,1.0],[38.3,1.4,1.0],[39.4,1.0,1.0],[40.4,1.8,1.0],[41.5,1.2,1.0],[42.5,1.6,1.0],[43.6,1.0,1.0],[44.7,0.6,1.0],[45.8,1.0,1.0],[46.8,0.4,1.0],[47.9,0.9,1.0],[48.9,-0.2,1.0],[50.0,0.4,1.0],[50.5,-0.5,1.0],[3.0,-1.8,1.0],[8.8,-2.8,1.0],[31.5,2.8,1.0],[36.8,2.9,1.0]];
var dSubRed = [[0.0,-2.5,1.4],[0.5,1.5,1.3],[1.0,2.4,1.4],[4.3,-0.1,1.3],[9.5,-1.6,1.3],[16.2,-3.6,1.5],[23.5,-0.8,1.3],[30.0,0.6,1.3],[36.5,2.2,1.3],[43.3,0.45,1.4],[47.5,1.2,1.3],[50.5,0.3,1.3]];
var dSubGreen = [[18.0,-1.0,1.0],[20.7,-2.1,1.0],[26.5,0.6,1.0],[33.0,0.9,1.0],[38.1,-1.4,4.3],[44.0,2.4,1.0],[47.0,1.6,1.0]];
var dSubPurple = [[1.5,-0.6,1.4],[5.5,-1.9,1.4],[8.5,-1.2,1.4],[12.9,1.4,2.2],[15.0,-2.4,1.4],[19.0,-2.0,1.4],[22.0,-1.4,1.4],[27.0,0.8,1.4],[31.0,2.2,1.4],[35.0,1.0,1.4],[40.0,1.2,1.4],[44.5,2.0,1.4],[49.0,0.6,1.4]];
var dIncBlue = [[0.3,-3.8,1.3],[0.8,1.2,1.2],[1.2,3.8,1.3],[1.6,-4.4,1.3],[2.1,0.4,1.2],[2.6,-4.9,1.3],[3.0,2.0,1.2],[3.6,-1.8,1.2],[4.0,4.2,1.3],[4.6,-0.6,1.2],[5.2,2.6,1.2],[5.7,-2.6,1.2],[6.2,0.8,1.2],[6.8,3.6,1.3],[7.3,-1.4,1.2],[7.8,1.6,1.2],[8.4,-3.2,1.3],[8.9,-0.2,1.2],[9.4,2.4,1.2],[10.0,-2.8,1.2],[10.5,0.6,1.2],[11.0,-4.6,1.3],[11.5,1.8,1.2],[12.1,-1.6,1.2],[12.6,-6.2,1.3],[13.1,-2.4,1.2],[13.7,1.4,1.2],[14.3,6.0,1.3],[14.7,-3.6,1.3],[15.2,-7.0,1.3],[15.8,-10.2,1.3],[16.1,-9.6,1.3],[16.5,0.6,1.2],[17.0,-5.8,1.3],[17.7,-9.9,1.3],[18.2,-1.8,1.2],[18.7,-7.4,1.3],[19.2,1.2,1.2],[19.8,-3.6,1.2],[20.3,-8.0,1.3],[20.8,-0.6,1.2],[21.4,-8.5,1.3],[21.9,-4.2,1.3],[22.4,1.8,1.2],[23.0,-2.6,1.2],[23.5,-5.6,1.3],[24.0,0.8,1.2],[24.6,-3.4,1.2],[25.1,-1.0,1.2],[25.6,2.6,1.2],[26.2,-4.0,1.3],[26.7,-1.8,1.2],[27.2,1.4,1.2],[27.8,-3.0,1.2],[28.3,3.2,1.3],[28.8,-2.2,1.2],[29.3,0.6,1.2],[29.8,10.1,1.3],[30.3,-3.8,1.3],[30.8,2.0,1.2],[31.3,-1.2,1.2],[31.7,7.0,1.3],[32.3,3.6,1.3],[32.8,-2.6,1.2],[33.3,1.0,1.2],[33.9,4.4,1.3],[34.4,-3.4,1.3],[34.9,0.2,1.2],[35.4,2.8,1.2],[36.0,-4.2,1.3],[36.5,-1.0,1.2],[37.0,1.8,1.2],[37.7,3.6,1.3],[38.2,-3.2,1.2],[38.7,0.6,1.2],[39.3,-6.3,1.3],[39.8,2.6,1.2],[40.3,-1.6,1.2],[40.8,-4.4,1.3],[41.3,1.2,1.2],[41.9,-2.4,1.2],[42.4,3.2,1.3],[43.0,6.8,1.3],[43.5,-0.8,1.2],[44.0,-3.6,1.3],[44.5,2.0,1.2],[45.1,-1.4,1.2],[45.6,-5.0,1.3],[46.1,0.6,1.2],[46.7,-2.8,1.2],[47.2,-4.4,1.3],[47.7,1.6,1.2],[48.3,-1.8,1.2],[48.8,-4.8,1.3],[49.3,0.8,1.2],[49.8,3.2,1.3],[50.3,-0.6,1.2],[50.7,0.3,1.2],
    [0.5,-0.6,1.2],[2.3,1.6,1.2],[4.3,-2.8,1.2],[6.0,-4.6,1.3],[7.5,2.2,1.2],[9.6,-0.8,1.2],[11.2,-2.2,1.2],[13.5,-4.4,1.3],[14.9,-1.2,1.2],[17.4,-3.4,1.2],[19.0,-5.4,1.3],[20.5,-2.2,1.2],[22.1,-6.8,1.3],[24.3,-4.8,1.3],[25.8,-2.4,1.2],[27.5,-4.6,1.3],[29.0,-3.0,1.2],[30.6,0.2,1.2],[32.6,-1.2,1.2],[34.6,1.6,1.2],[36.3,2.2,1.2],[38.0,-1.8,1.2],[40.0,0.4,1.2],[41.6,2.8,1.2],[43.2,-2.2,1.2],[45.3,1.0,1.2],[47.0,-1.0,1.2],[48.5,-3.2,1.3],[50.1,2.0,1.2],[16.9,-7.6,1.3]];
var dIncRed = [[0.0,-2.5,1.4],[0.6,-0.7,1.4],[1.0,1.5,1.4],[5.6,-0.2,1.4],[15.9,-5.1,1.5],[16.7,-4.0,1.5],[19.2,-3.4,1.5],[26.0,-1.6,1.4],[33.0,1.8,1.4],[43.0,0.2,1.5],[47.0,-1.4,1.4],[50.6,0.6,1.4]];
var dIncGreen = [[9.0,-1.4,1.2],[14.0,-1.6,1.2],[18.3,-2.0,1.2],[20.0,4.1,2.0],[21.5,-1.0,1.2],[25.0,-0.4,1.2],[29.6,-1.2,1.2],[33.5,1.4,1.2],[37.7,-3.7,3.1],[41.8,4.1,1.2],[44.5,2.6,1.2],[48.6,2.0,1.2]];
var dIncPurple = [[2.0,-1.6,1.5],[3.5,8.7,1.5],[4.2,-7.8,1.5],[5.1,-6.0,1.5],[6.7,6.6,1.5],[8.0,4.4,1.5],[10.0,-4.0,1.5],[11.5,2.8,1.5],[13.0,-4.2,1.5],[15.0,1.6,1.5],[17.2,1.0,1.5],[19.5,-2.6,1.5],[22.5,-6.4,1.5],[24.5,-2.0,1.5],[27.0,0.8,1.5],[28.5,-4.2,1.5],[31.0,3.8,1.5],[33.0,-4.8,1.5],[35.0,4.0,1.5],[36.8,-5.2,1.5],[39.0,-2.4,1.5],[41.0,-3.0,1.5],[43.8,4.6,1.5],[45.0,4.4,1.5],[46.0,4.2,1.5],[47.0,-4.0,1.5],[48.0,4.1,1.5],[49.5,5.2,1.5],[50.2,4.6,1.5],[45.5,-4.6,1.5]];
var dModelX = [0, 2.54, 5.08, 7.62, 10.16, 12.7, 15.24, 17.78, 20.32, 22.86, 25.4, 27.94, 30.48, 33.02, 35.56, 38.1, 40.64, 43.18, 45.72, 48.26, 50.8];
var dModelY = [0, -0.48, -0.91, -1.25, -1.47, -1.55, -1.47, -1.25, -0.91, -0.48, 0, 0.48, 0.91, 1.25, 1.47, 1.55, 1.47, 1.25, 0.91, 0.48, 0];
var dBinX = [2.54, 7.62, 12.7, 17.78, 22.86, 27.94, 33.02, 38.1, 43.18, 48.26];
var dBinY = [0.56, -0.95, -1.84, -2.46, -2.07, -1.12, 1.06, 0.39, 1.73, 0.17];

// ---- drawing ----
Chart.defaults.font.family = "'DejaVu Sans', sans-serif";
Chart.defaults.font.size = 12;

var rowTops = [28, 215, 403, 590];
var plotH = 143;
var colors = {
    blue: 'rgba(0,0,255,0.5)',
    red: 'rgba(255,0,0,0.5)',
    green: 'rgba(0,128,0,0.5)',
    purple: 'rgba(128,0,128,0.5)'
};

function toPts(arr) {
    return arr.map(function (p) { return {x: p[0], y: p[1], e: p[2]}; });
}
function toXY(xs, ys) {
    return xs.map(function (x, i) { return {x: x, y: ys[i]}; });
}
function minusSign(v) {
    return String(v).replace('-', '\u2212');
}

// vertical error bars, drawn just under each dataset's markers
var errorBars = {
    id: 'errorBars',
    beforeDatasetDraw: function (chart, args) {
        var ds = chart.data.datasets[args.index];
        if (!ds.errBars) return;
        var ctx = chart.ctx, a = chart.chartArea;
        var xs = chart.scales.x, ys = chart.scales.y;
        ctx.save();
        ctx.beginPath();
        ctx.rect(a.left, a.top, a.right - a.left, a.bottom - a.top);
        ctx.clip();
        ctx.strokeStyle = ds.borderColor;
        ctx.lineWidth = 1;
        ds.data.forEach(function (p) {
            var px = xs.getPixelForValue(p.x);
            ctx.beginPath();
            ctx.moveTo(px, ys.getPixelForValue(p.y - p.e));
            ctx.lineTo(px, ys.getPixelForValue(p.y + p.e));
            ctx.stroke();
        });
        ctx.restore();
    }
};

// axes frame and the little legend box
var frameAndKey = {
    id: 'frameAndKey',
    afterDatasetsDraw: function (chart) {
        var ctx = chart.ctx, a = chart.chartArea;
        ctx.save();
        ctx.strokeStyle = '#5a5a5a';
        ctx.lineWidth = 1;
        ctx.strokeRect(a.left + 0.5, a.top + 0.5, a.right - a.left - 1, a.bottom - a.top - 1);
        ctx.restore();
    },
    afterDraw: function (chart, args, opts) {
        if (!opts.label) return;
        var ctx = chart.ctx, a = chart.chartArea;
        var bx = a.left + 50.5, by = a.top + 5.5, bw = a.right - 6.5 - bx, bh = 23;
        ctx.save();
        ctx.beginPath();
        ctx.roundRect(bx, by, bw, bh, 3);
        ctx.fillStyle = 'rgba(255,255,255,0.8)';
        ctx.fill();
        ctx.strokeStyle = 'rgba(204,204,204,0.9)';
        ctx.lineWidth = 1;
        ctx.stroke();
        var my = by + bh / 2;
        ctx.beginPath();
        ctx.moveTo(a.left + 55.3, my);
        ctx.lineTo(a.left + 80.7, my);
        ctx.strokeStyle = '#000';
        ctx.lineWidth = 2.5;
        ctx.stroke();
        ctx.fillStyle = '#000';
        ctx.font = "12px 'DejaVu Sans'";
        ctx.textBaseline = 'middle';
        ctx.fillText(opts.label, a.left + 89.7, my + 0.5);
        ctx.restore();
    }
};

function panel(row, col, sets, modelX, modelY, binX, binY) {
    var left = col === 0;
    var padTop = row === 0 ? 0 : 12;
    var topSpace = row === 0 ? 28 : padTop;
    var yW = left ? 57 : 10;
    var areaW = left ? 152 : 153;
    var cv = document.createElement('canvas');
    cv.width = yW + areaW + 10;
    cv.height = topSpace + plotH + 36;
    cv.style.left = (left ? 0 : 213) + 'px';
    cv.style.top = (rowTops[row] - topSpace) + 'px';
    document.body.appendChild(cv);

    var order = {blue: 5, red: 4, green: 3, purple: 2};
    var datasets = [];
    ['blue', 'red', 'green', 'purple'].forEach(function (c) {
        datasets.push({
            data: toPts(sets[c]),
            errBars: true,
            order: order[c],
            showLine: false,
            borderColor: colors[c],
            backgroundColor: 'rgba(0,0,0,0)',
            pointBackgroundColor: 'rgba(0,0,0,0)',
            pointBorderColor: colors[c],
            pointBorderWidth: 1,
            pointRadius: 2.4
        });
    });
    datasets.push({
        data: toXY(modelX, modelY),
        order: 1,
        showLine: true,
        borderColor: '#000',
        borderWidth: 2.7,
        pointRadius: 0,
        tension: 0.4,
        fill: false
    });
    if (binX) {
        datasets.push({
            data: toXY(binX, binY),
            order: 0,
            showLine: false,
            backgroundColor: '#ffff00',
            pointBackgroundColor: '#ffff00',
            pointBorderColor: '#000',
            pointBorderWidth: 0.8,
            pointRadius: 2.2
        });
    }

    var xr = xRanges[row], yr = yRanges[row], xt = xTicks[row];
    new Chart(cv, {
        type: 'scatter',
        data: {datasets: datasets},
        plugins: [errorBars, frameAndKey],
        options: {
            responsive: false,
            animation: false,
            events: [],
            layout: {padding: {top: padTop, right: 10, left: 0, bottom: 0}},
            plugins: {
                legend: {display: false},
                tooltip: {enabled: false},
                title: {
                    display: row === 0,
                    text: columnTitles[col],
                    fullSize: false,
                    color: '#000',
                    font: {size: 15, lineHeight: 1, weight: 'normal'},
                    padding: {top: 13, bottom: 0}
                },
                frameAndKey: {label: left ? planets[row] : null}
            },
            scales: {
                x: {
                    type: 'linear',
                    min: xr[0],
                    max: xr[1],
                    afterBuildTicks: function (s) { s.ticks = xt.map(function (v) { return {value: v}; }); },
                    afterFit: function (s) { s.height = 36; },
                    grid: {drawOnChartArea: false, drawTicks: true, tickLength: 3.5, color: '#333'},
                    border: {display: false},
                    ticks: {color: '#000', padding: 1.5, maxRotation: 0, autoSkip: false,
                        callback: function (v) { return minusSign(v); }},
                    title: {display: true, text: 'Phase (d)', color: '#000', padding: {top: 0, bottom: 3.6}}
                },
                y: {
                    type: 'linear',
                    min: yr[0],
                    max: yr[1],
                    afterBuildTicks: function (s) { s.ticks = yTicks.map(function (v) { return {value: v}; }); },
                    afterFit: function (s) { s.width = yW; },
                    grid: {drawOnChartArea: false, drawTicks: true, tickLength: 3.5, color: '#333'},
                    border: {display: false},
                    ticks: {color: '#000', padding: 1, autoSkip: false,
                        callback: function (v) { return left ? minusSign(v) : ''; }},
                    title: {display: left, text: 'RV (m/s)', color: '#000', padding: {top: 10.8, bottom: 0}}
                }
            }
        }
    });
}

panel(0, 0, {blue: eSubBlue, red: eSubRed, green: eSubGreen, purple: eSubPurple}, eModelX, eModelY);
panel(0, 1, {blue: eIncBlue, red: eIncRed, green: eIncGreen, purple: eIncPurple}, eModelX, eModelY, eBinX, eBinY);
panel(1, 0, {blue: bSubBlue, red: bSubRed, green: bSubGreen, purple: bSubPurple}, bModelX, bModelY);
panel(1, 1, {blue: bIncBlue, red: bIncRed, green: bIncGreen, purple: bIncPurple}, bModelX, bModelY, bBinX, bBinY);
panel(2, 0, {blue: cSubBlue, red: cSubRed, green: cSubGreen, purple: cSubPurple}, cModelX, cModelY);
panel(2, 1, {blue: cIncBlue, red: cIncRed, green: cIncGreen, purple: cIncPurple}, cModelX, cModelY, cBinX, cBinY);
panel(3, 0, {blue: dSubBlue, red: dSubRed, green: dSubGreen, purple: dSubPurple}, dModelX, dModelY);
panel(3, 1, {blue: dIncBlue, red: dIncRed, green: dIncGreen, purple: dIncPurple}, dModelX, dModelY, dBinX, dBinY);
</script>
</body>
</html>
